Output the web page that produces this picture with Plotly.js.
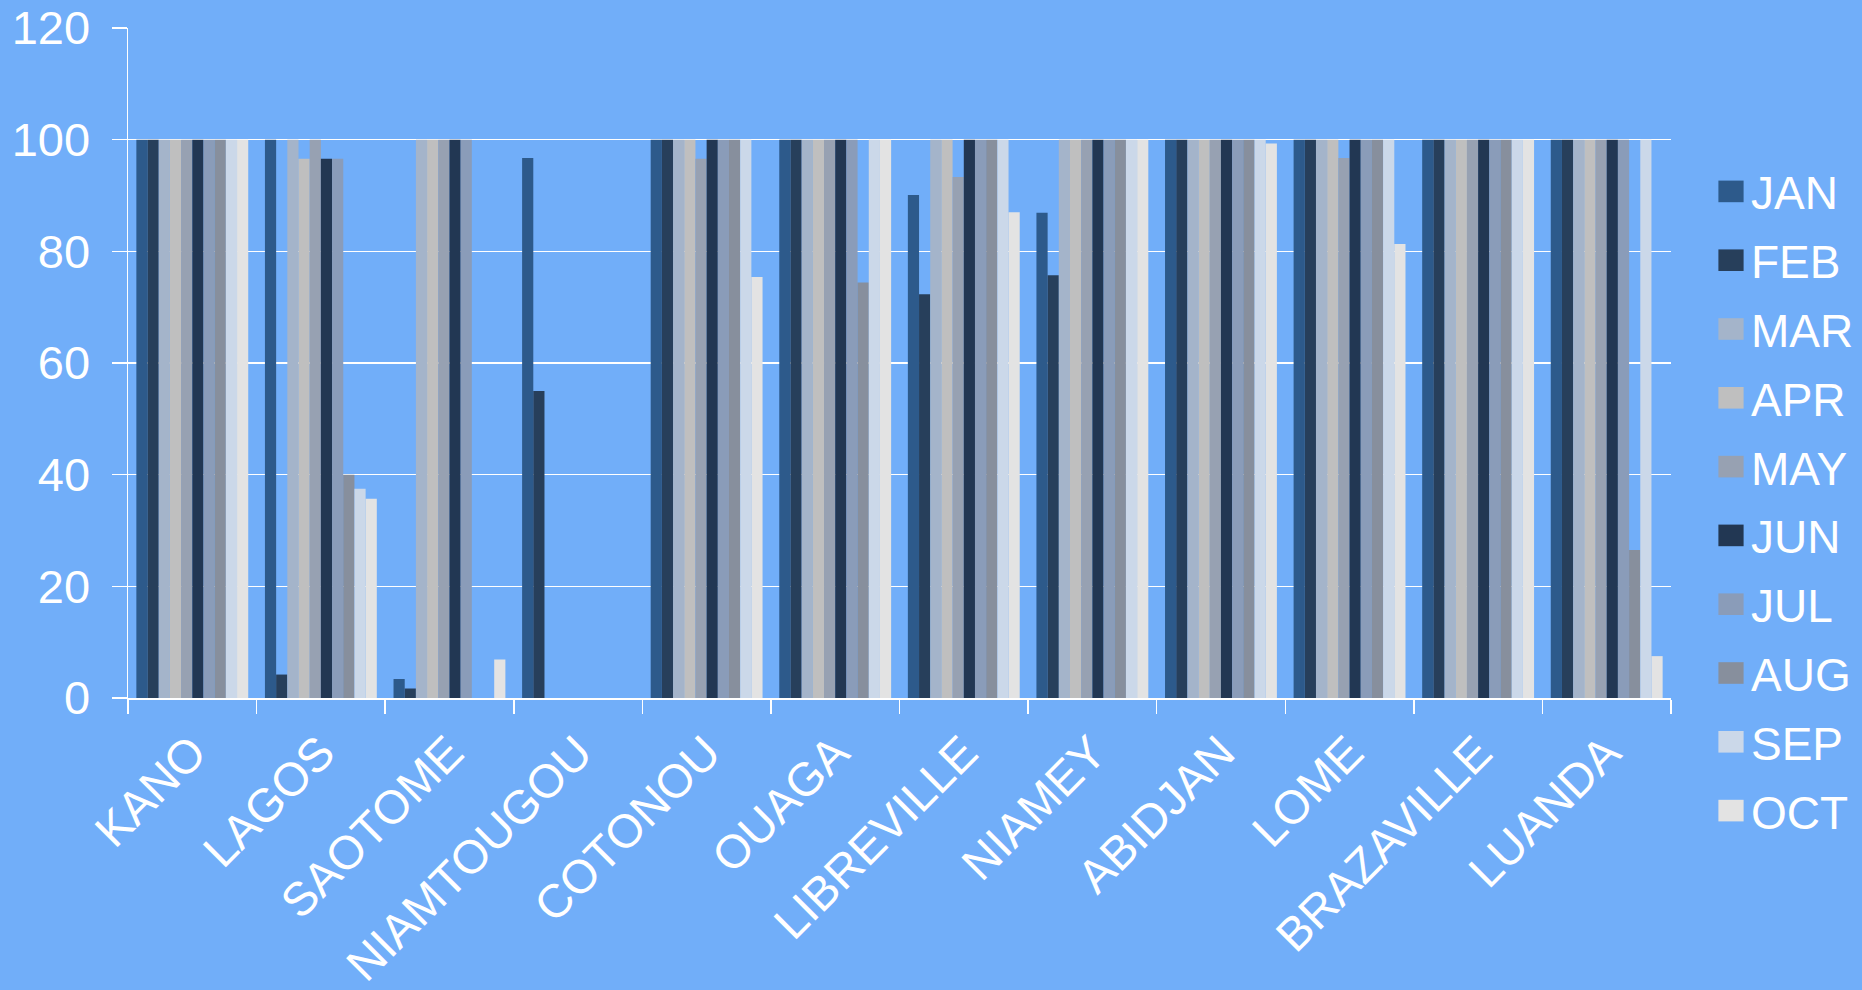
<!DOCTYPE html>
<html>
<head>
<meta charset="utf-8">
<script src="https://cdn.plot.ly/plotly-3.0.1.min.js"></script>
<style>
  html, body { margin: 0; padding: 0; background: #71AEF9; }
  #chart { width: 1862px; height: 990px; }
</style>
</head>
<body>
<div id="chart"></div>
<script>
const cities = ["KANO", "LAGOS", "SAOTOME", "NIAMTOUGOU", "COTONOU", "OUAGA", "LIBREVILLE", "NIAMEY", "ABIDJAN", "LOME", "BRAZAVILLE", "LUANDA"];
const months = ["JAN", "FEB", "MAR", "APR", "MAY", "JUN", "JUL", "AUG", "SEP", "OCT"];

const JAN = [100, 100, 3.4, 96.7, 100, 100, 90.1, 86.9, 100, 100, 100, 100];
const FEB = [100, 4.2, 1.7, 55.0, 100, 100, 72.3, 75.7, 100, 100, 100, 100];
const MAR = [100, 100, 100, 0, 100, 100, 100, 100, 100, 100, 100, 100];
const APR = [100, 96.6, 100, 0, 100, 100, 100, 100, 100, 100, 100, 100];
const MAY = [100, 100, 100, 0, 96.6, 100, 93.3, 100, 100, 96.7, 100, 100];
const JUN = [100, 96.6, 100, 0, 100, 100, 100, 100, 100, 100, 100, 100];
const JUL = [100, 96.6, 100, 0, 100, 100, 100, 100, 100, 100, 100, 100];
const AUG = [100, 40, 0, 0, 100, 74.4, 100, 100, 100, 100, 100, 26.5];
const SEP = [100, 37.5, 0, 0, 100, 100, 100, 100, 100, 100, 100, 100];
const OCT = [100, 35.7, 6.9, 0, 75.4, 100, 87.0, 100, 99.3, 81.3, 100, 7.5];

const yTicks = [0, 20, 40, 60, 80, 100, 120];

const series = [JAN, FEB, MAR, APR, MAY, JUN, JUL, AUG, SEP, OCT];
const colors = ["#2D5A8B", "#273F5B", "#A4B4CA", "#BFBFBF", "#97A1B2", "#223753", "#8A9CB9", "#878F9D", "#CBD8E9", "#E3E3E3"];

const traces = months.map((m, i) => ({
  type: "bar",
  name: m,
  x: cities,
  y: series[i],
  legendgroup: m,
  marker: { color: colors[i], line: { width: 0 } },
  hoverinfo: "x+y+name"
}));

const W = 1862, H = 990;
const L = 128, R = 191, T = 28, B = 292;
const pw = W - L - R, ph = H - T - B;

const layout = {
  width: W, height: H,
  paper_bgcolor: "#71AEF9",
  plot_bgcolor: "#71AEF9",
  font: { family: "Liberation Sans, Arial, sans-serif", color: "#FFFFFF", size: 46 },
  margin: { l: L, r: R, t: T, b: B, pad: 0, autoexpand: false },
  barmode: "group",
  bargap: 0.13,
  bargroupgap: 0,
  showlegend: true,
  legend: {
    x: (1711 - L) / pw,
    xanchor: "left",
    y: (698 - 501) / ph,
    yanchor: "middle",
    maxheight: 960,
    bgcolor: "rgba(0,0,0,0)",
    font: { size: 46, color: "#FFFFFF" },
    tracegroupgap: 6,
    traceorder: "grouped"
  },
  xaxis: {
    type: "category",
    automargin: false,
    showline: true, linecolor: "#FFFFFF", linewidth: 2,
    ticks: "outside", tickson: "boundaries", ticklen: 14, tickcolor: "#FFFFFF", tickwidth: 1.5,
    tickangle: -45,
    tickfont: { size: 47, color: "#FFFFFF" },
    ticklabelstandoff: 6,
    showgrid: false, zeroline: false
  },
  yaxis: {
    range: [0, 120],
    automargin: false,
    tickvals: yTicks,
    ticktext: yTicks.map(String),
    showline: true, linecolor: "#FFFFFF", linewidth: 1.5,
    ticks: "outside", ticklen: 15, tickcolor: "#FFFFFF", tickwidth: 1.5,
    showgrid: true, gridcolor: "#FFFFFF", gridwidth: 1.5,
    zeroline: false,
    tickfont: { size: 47, color: "#FFFFFF" },
    ticklabelstandoff: 12
  }
};

Plotly.newPlot("chart", traces, layout, { displayModeBar: false, staticPlot: true }).then(() => {
  document.querySelectorAll(".legend .legendpoints path").forEach(p => {
    const t = p.getAttribute("transform") || "";
    p.setAttribute("transform", t + " scale(2.1,1.8)");
  });
});
</script>
</body>
</html>
